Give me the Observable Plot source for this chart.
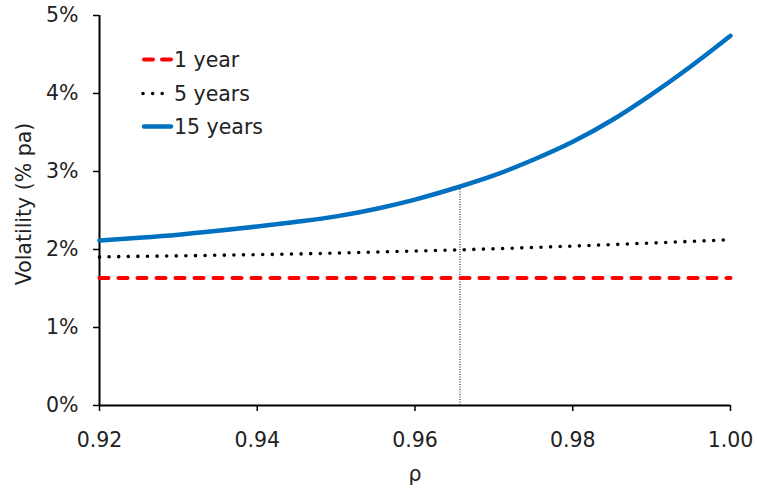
<!DOCTYPE html>
<html>
<head>
<meta charset="utf-8">
<script src="https://cdn.jsdelivr.net/npm/d3@7"></script>
<script src="https://cdn.jsdelivr.net/npm/@observablehq/plot@0.6"></script>
<style>
  html, body { margin: 0; padding: 0; background: #fff; }
  #wrap { position: relative; width: 757px; height: 492px; }
  #legend { position: absolute; left: 0; top: 0; pointer-events: none; }
</style>
</head>
<body>
<div id="wrap"></div>
<script>
// ---- data ----
const rho = [0.920, 0.925, 0.930, 0.935, 0.940, 0.945, 0.950, 0.955, 0.960,
             0.965, 0.970, 0.975, 0.980, 0.985, 0.990, 0.995, 1.000];
const vol1Year  = [1.635, 1.635, 1.635, 1.635, 1.635, 1.635, 1.635, 1.635, 1.635,
                   1.635, 1.635, 1.635, 1.635, 1.635, 1.635, 1.635, 1.635];
const vol5Years = [1.905, 1.912, 1.918, 1.926, 1.934, 1.943, 1.954, 1.967, 1.980,
                   1.994, 2.009, 2.026, 2.044, 2.063, 2.083, 2.104, 2.125];
const vol15Years = [2.115, 2.150, 2.190, 2.240, 2.295, 2.355, 2.425, 2.520, 2.640,
                    2.785, 2.950, 3.150, 3.380, 3.660, 3.990, 4.350, 4.740];
const seriesNames = ["1 year", "5 years", "15 years"];
const markerRho = [0.9657];
const markerVol = [2.81];
const xTicks = [0.92, 0.94, 0.96, 0.98, 1.00];
const yTicks = [0, 1, 2, 3, 4, 5];
const xDomain = [0.92, 1.00];
const yDomain = [0, 5];
const xLabel = "ρ";
const yLabel = "Volatility (% pa)";

const toRows = (ys) => rho.map((r, i) => ({rho: r, v: ys[i]}));
const FONT = "'DejaVu Sans', Verdana, sans-serif";
const FS = 20.5;

const chart = Plot.plot({
  width: 757,
  height: 492,
  marginLeft: 99,
  marginRight: 27,
  marginTop: 15,
  marginBottom: 87,
  style: {fontFamily: FONT, fontSize: FS + "px", color: "#222", background: "#fff"},
  x: {domain: xDomain},
  y: {domain: yDomain},
  marks: [
    Plot.axisX({ticks: xTicks, tickFormat: d3.format(".2f"), tickSize: 6, tickPadding: 21, label: null, stroke: "#000", strokeWidth: 1.5}),
    Plot.axisY({ticks: yTicks, tickFormat: d => d + "%", tickSize: 6, tickPadding: 15, label: null, stroke: "#000", strokeWidth: 1.5}),
    Plot.ruleY([yDomain[0]], {x1: xDomain[0], x2: xDomain[1], stroke: "#000", strokeWidth: 2}),
    Plot.ruleX([xDomain[0]], {y1: yDomain[0], y2: yDomain[1], stroke: "#000", strokeWidth: 2}),
    Plot.ruleX(markerRho, {y1: 0, y2: markerVol[0], stroke: "#000", strokeWidth: 1, strokeDasharray: "1,1.5"}),
    Plot.line(toRows(vol1Year), {x: "rho", y: "v", stroke: "#FF0000", strokeWidth: 4, strokeDasharray: "9,10", strokeLinecap: "round"}),
    Plot.line(toRows(vol5Years), {x: "rho", y: "v", stroke: "#000", strokeWidth: 3.6, strokeDasharray: "0,9.6", strokeLinecap: "round", curve: "monotone-x"}),
    Plot.line(toRows(vol15Years), {x: "rho", y: "v", stroke: "#0070C0", strokeWidth: 4.5, strokeLinecap: "round", curve: "monotone-x"}),
    Plot.text([xLabel], {frameAnchor: "bottom", dy: 69, fontSize: FS, fill: "#222", lineAnchor: "middle"})
  ]
});
document.getElementById("wrap").appendChild(chart);

// ---- legend + y-axis title overlay ----
const ns = "http://www.w3.org/2000/svg";
const lg = document.createElementNS(ns, "svg");
lg.setAttribute("id", "legend");
lg.setAttribute("width", 757);
lg.setAttribute("height", 492);

const yt = document.createElementNS(ns, "text");
yt.setAttribute("transform", "translate(24,204) rotate(-90)");
yt.setAttribute("text-anchor", "middle");
yt.setAttribute("dy", "0.36em");
yt.setAttribute("font-family", FONT);
yt.setAttribute("font-size", FS);
yt.setAttribute("fill", "#222");
yt.textContent = yLabel;
lg.appendChild(yt);

const styles = [
  {stroke: "#FF0000", w: 4, dash: "9,9", y: 59.5},
  {stroke: "#000", w: 3.6, dash: "0,9.6", y: 93.5},
  {stroke: "#0070C0", w: 4.5, dash: null, y: 126.5}
];
seriesNames.forEach((name, i) => {
  const s = styles[i];
  const ln = document.createElementNS(ns, "line");
  ln.setAttribute("x1", i === 1 ? 143 : 144);
  ln.setAttribute("x2", i === 1 ? 166 : 171);
  ln.setAttribute("y1", s.y);
  ln.setAttribute("y2", s.y);
  ln.setAttribute("stroke", s.stroke);
  ln.setAttribute("stroke-width", s.w);
  ln.setAttribute("stroke-linecap", "round");
  if (s.dash) ln.setAttribute("stroke-dasharray", s.dash);
  lg.appendChild(ln);
  const t = document.createElementNS(ns, "text");
  t.setAttribute("x", 174);
  t.setAttribute("y", s.y);
  t.setAttribute("dy", "0.36em");
  t.setAttribute("font-family", FONT);
  t.setAttribute("font-size", FS);
  t.setAttribute("fill", "#222");
  t.textContent = name;
  lg.appendChild(t);
});
document.getElementById("wrap").appendChild(lg);
</script>
</body>
</html>
